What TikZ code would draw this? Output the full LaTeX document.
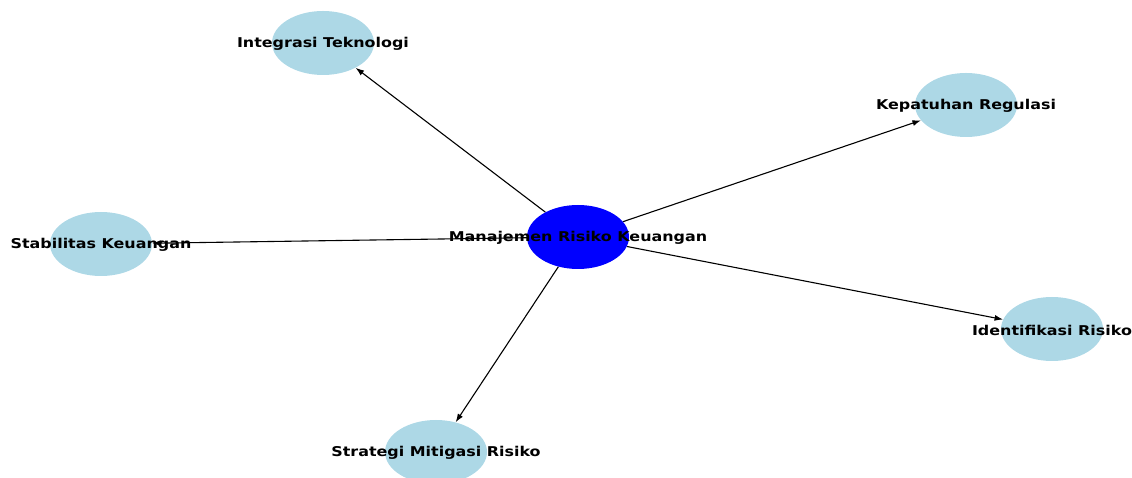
\documentclass[tikz,border=0pt]{standalone}
\usepackage{fontspec}
\setmainfont{DejaVu Sans}
\usetikzlibrary{shapes.geometric,arrows.meta}
\pgfdeclarelayer{bg}
\pgfsetlayers{bg,main}
\definecolor{topicblue}{HTML}{ADD8E6}
\definecolor{hubblue}{HTML}{0000FF}

\begin{document}
\begin{tikzpicture}[x=1pt,y=1pt,
    topic/.style={ellipse,fill=topicblue,minimum width=102pt,minimum height=64pt,inner sep=0pt},
    hub/.style={topic,fill=hubblue},
    tag/.style={font=\bfseries\fontsize{13.5}{16}\selectfont,inner sep=0pt,xscale=1.18,transform shape},
    link/.style={-{Latex[length=8.5pt,width=6pt]},black,line width=1.1pt}]
\useasboundingbox (0,0) rectangle (1132,478);
\node[hub] (mrk) at (578,241) {};
\node[topic] (it) at (323,435) {};
\node[topic] (kr) at (966,373) {};
\node[topic] (sk) at (101,234) {};
\node[topic] (ir) at (1052,149) {};
\node[topic] (smr) at (436,26) {};
\begin{pgfonlayer}{bg}
\draw[link] (mrk) -- (it);
\draw[link] (mrk) -- (kr);
\draw[link] (mrk) -- (sk);
\draw[link] (mrk) -- (ir);
\draw[link] (mrk) -- (smr);
\end{pgfonlayer}
\node[tag] at ([yshift=-1pt]mrk) {Manajemen Risiko Keuangan};
\node[tag] at ([yshift=-1pt]it) {Integrasi Teknologi};
\node[tag] at ([yshift=-1pt]kr) {Kepatuhan Regulasi};
\node[tag] at ([yshift=-1pt]sk) {Stabilitas Keuangan};
\node[tag] at ([yshift=-1pt]ir) {Identifikasi Risiko};
\node[tag] at ([yshift=-1pt]smr) {Strategi Mitigasi Risiko};
\end{tikzpicture}
\end{document}
